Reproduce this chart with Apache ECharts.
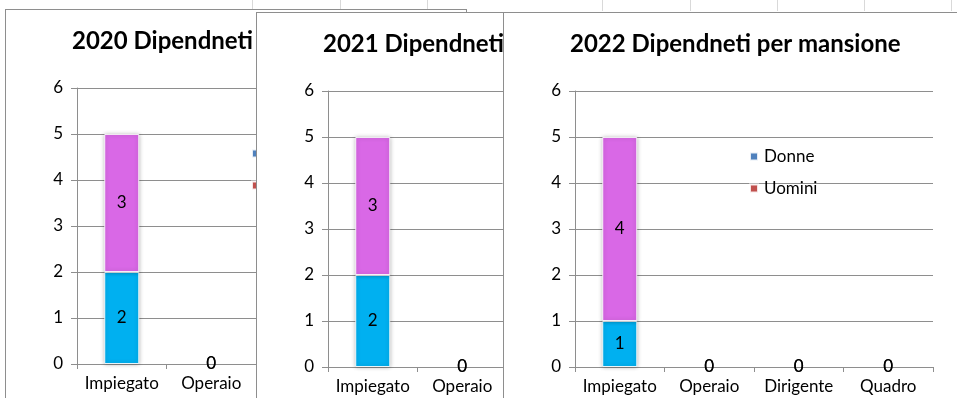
<!DOCTYPE html>
<html>
<head>
<meta charset="utf-8">
<script src="https://cdn.jsdelivr.net/npm/echarts@6/dist/echarts.min.js"></script>
<style>
  html, body { margin: 0; padding: 0; background: #fff; width: 957px; height: 398px; overflow: hidden; position: relative; }
  .sheet-col { position: absolute; top: 0; width: 1px; height: 11px; background: #d9d9d9; }
  .panel { position: absolute; width: 462px; height: 420px; background: #fff; border: 1px solid #8e8e8e; box-sizing: border-box; }
</style>
</head>
<body>
<div class="sheet-col" style="left:252px"></div>
<div class="sheet-col" style="left:340px"></div>
<div class="sheet-col" style="left:427px"></div>
<div class="sheet-col" style="left:602px"></div>
<div class="sheet-col" style="left:690px"></div>
<div class="sheet-col" style="left:777px"></div>
<div class="sheet-col" style="left:864px"></div>
<div class="sheet-col" style="left:951px"></div>
<div id="c2020" class="panel" style="left:5px; top:9px; z-index:1"></div>
<div id="c2021" class="panel" style="left:256px; top:12px; z-index:2"></div>
<div id="c2022" class="panel" style="left:503px; top:12px; z-index:3"></div>
<script>
// Employees by role, split by gender, one chart per year
const categories = ['Impiegato', 'Operaio', 'Dirigente', 'Quadro'];
const yTicks = [0, 1, 2, 3, 4, 5, 6];
const seriesNames = ['Donne', 'Uomini'];

const donne2020 = [2, 0, 0, 0];
const uomini2020 = [3, 0, 0, 0];
const donne2021 = [2, 0, 0, 0];
const uomini2021 = [3, 0, 0, 0];
const donne2022 = [1, 0, 0, 0];
const uomini2022 = [4, 0, 0, 0];

const FONT = 'Lato, "Liberation Sans", sans-serif';
const AXIS_GRAY = '#8e8e8e';

// empty bars get no fill, outline or shadow, only their value label
function barData(values) {
  return values.map(v => v === 0
    ? { value: v, itemStyle: { color: 'rgba(0,0,0,0)', shadowBlur: 0, borderWidth: 0 } }
    : v);
}

function buildChart(id, title, donne, uomini) {
  const chart = echarts.init(document.getElementById(id), null, { renderer: 'canvas' });
  const barStyle = (color) => ({
    color: color,
    borderColor: 'rgba(255,255,255,0.85)',
    borderWidth: 1,
    shadowColor: 'rgba(0,0,0,0.28)',
    shadowBlur: 4
  });
  const label = {
    show: true,
    position: 'inside',
    color: '#000',
    fontFamily: FONT,
    fontSize: 17
  };
  chart.setOption({
    animation: false,
    backgroundColor: '#fff',
    textStyle: { fontFamily: FONT },
    title: {
      text: title,
      left: 61,
      top: 14,
      textStyle: { fontFamily: FONT, fontSize: 24, fontWeight: 'bold', color: '#000' }
    },
    legend: {
      orient: 'vertical',
      left: 240,
      top: 130,
      icon: 'rect',
      itemWidth: 8,
      itemHeight: 8,
      itemGap: 15,
      textStyle: { fontFamily: FONT, fontSize: 17, color: '#000', padding: [0, 0, 0, 1] },
      data: [
        { name: seriesNames[0], itemStyle: { color: '#4F81BD' } },
        { name: seriesNames[1], itemStyle: { color: '#C0504D' } }
      ]
    },
    grid: { left: 71, top: 78, width: 358, height: 276, containLabel: false },
    xAxis: {
      type: 'category',
      data: categories,
      boundaryGap: true,
      axisLine: { show: true, lineStyle: { color: AXIS_GRAY, width: 1 } },
      axisTick: { show: true, length: 5, lineStyle: { color: AXIS_GRAY } },
      axisLabel: { interval: 0, color: '#000', fontFamily: FONT, fontSize: 17, margin: 11 }
    },
    yAxis: {
      type: 'value',
      min: yTicks[0],
      max: yTicks[yTicks.length - 1],
      interval: 1,
      axisLine: { show: true, lineStyle: { color: AXIS_GRAY, width: 1 } },
      axisTick: { show: true, length: 6, lineStyle: { color: AXIS_GRAY } },
      axisLabel: { color: '#000', fontFamily: FONT, fontSize: 17, margin: 14 },
      splitLine: { show: true, lineStyle: { color: AXIS_GRAY, width: 1 } }
    },
    series: [
      {
        name: seriesNames[0], type: 'bar', stack: 'tot', barWidth: 35,
        data: barData(donne), itemStyle: barStyle('#00B0F0'), label: label
      },
      {
        name: seriesNames[1], type: 'bar', stack: 'tot', barWidth: 35,
        data: barData(uomini), itemStyle: barStyle('#D968E6'), label: label
      }
    ]
  });
}

buildChart('c2020', '2020 Dipendneti per mansione', donne2020, uomini2020);
buildChart('c2021', '2021 Dipendneti per mansione', donne2021, uomini2021);
buildChart('c2022', '2022 Dipendneti per mansione', donne2022, uomini2022);
</script>
</body>
</html>
